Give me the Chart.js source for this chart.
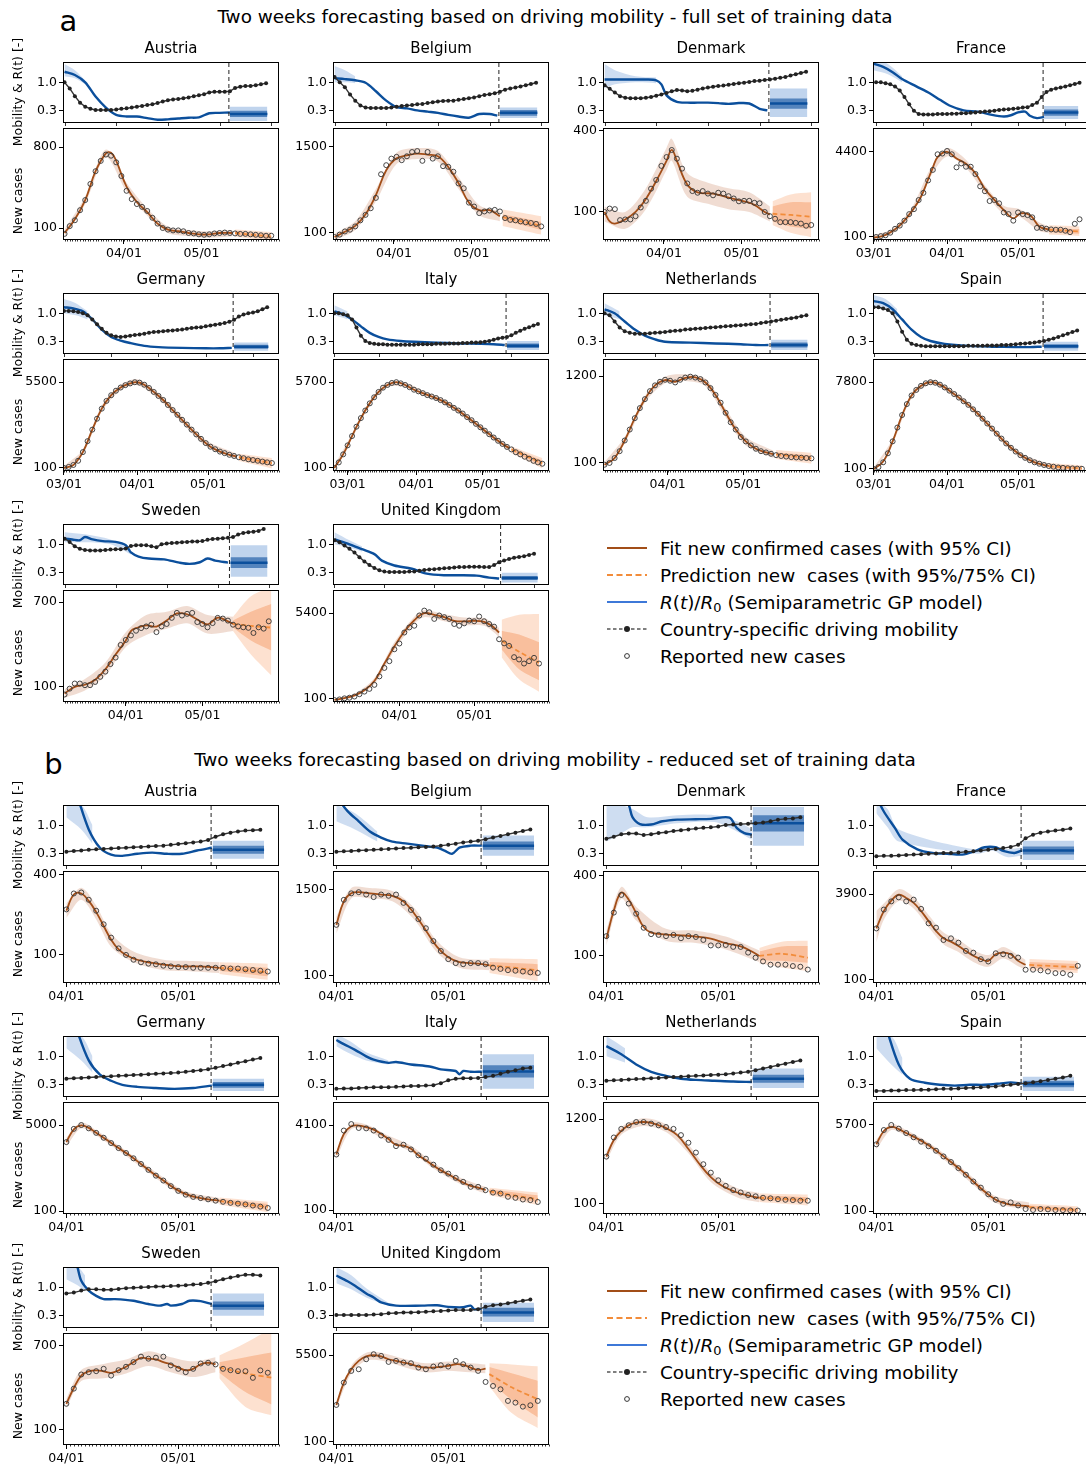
<!DOCTYPE html>
<html lang="en">
<head>
  <meta charset="UTF-8">
  <title>Two weeks forecasting based on driving mobility</title>
  <script src="https://cdn.jsdelivr.net/npm/chart.js"></script>
  <style>
    html, body { margin: 0; padding: 0; background: #fff; overflow: hidden; }
    body { font-family: "DejaVu Sans", sans-serif; color: #000; }
    #page { position: relative; width: 1086px; height: 1468px; overflow: hidden; }
    canvas { position: absolute; }
    .txt { position: absolute; white-space: nowrap; line-height: 1; }
    .leg { position: absolute; white-space: nowrap; font-size: 18.4px; line-height: 27px; }
    .leg svg { position: absolute; left: 0; top: 8px; }
    .leg span { position: absolute; left: 53px; }
    sub { font-size: 70%; vertical-align: -3px; }
  </style>
</head>
<body>
<div id="page"></div>
<script>
  // ---- data (day 0 = 03/01, 31 = 04/01, 61 = 05/01) ----
  const countries = ["Austria", "Belgium", "Denmark", "France", "Germany", "Italy", "Netherlands", "Spain", "Sweden", "United Kingdom"];
  const monthDays = [0, 31, 61];
  const monthLabels = ["03/01", "04/01", "05/01"];

  // panel a: full set of training data
  const firstDayA = [8, 8, 8, 1, 0, -6, 6, 0, 7, 5];
  const axisStartA = [7.4, 7.4, 7.4, -0.3, -0.4, -6.6, 5.4, -0.3, 6.4, 4.4];
  const trainEndA = 71.6;
  const forecastEndA = 86.5;
  const caseTickA = [800, 1500, 400, 4400, 5500, 5700, 1200, 7800, 700, 5400];
  const caseRangeA = [[73.5, 1304], [80.2, 2728], [61.9, 421], [87.5, 12780], [86.8, 16300], [86.7, 17000], [79.4, 1956], [90.4, 25000], [70.7, 925], [86.9, 15900]];

  // mobility, one value every 2 days from the first day
  const mobilityA = [
    [1.00,0.85,0.66,0.50,0.40,0.35,0.32,0.32,0.32,0.32,0.33,0.35,0.36,0.38,0.40,0.42,0.44,0.46,0.49,0.53,0.56,0.58,0.59,0.61,0.63,0.66,0.68,0.71,0.75,0.77,0.77,0.77,0.78,0.86,0.89,0.91,0.91,0.93,0.95,0.98],
    [1.13,1.00,0.88,0.70,0.55,0.43,0.38,0.37,0.37,0.37,0.37,0.38,0.40,0.42,0.43,0.44,0.46,0.47,0.49,0.51,0.53,0.54,0.55,0.55,0.57,0.59,0.61,0.63,0.66,0.69,0.71,0.73,0.77,0.82,0.85,0.87,0.90,0.93,0.96,0.99],
    [0.93,0.84,0.75,0.66,0.62,0.61,0.61,0.61,0.62,0.64,0.67,0.70,0.74,0.78,0.81,0.80,0.78,0.79,0.82,0.85,0.87,0.89,0.91,0.92,0.94,0.96,0.98,0.99,1.01,1.03,1.04,1.06,1.07,1.09,1.11,1.13,1.17,1.20,1.23,1.26],
    [1.00,1.00,0.98,0.95,0.90,0.80,0.64,0.46,0.30,0.22,0.21,0.21,0.21,0.22,0.22,0.22,0.23,0.23,0.24,0.24,0.25,0.26,0.27,0.28,0.29,0.30,0.32,0.33,0.34,0.35,0.36,0.38,0.39,0.44,0.50,0.64,0.76,0.82,0.85,0.87,0.90,0.93,0.96,0.99],
    [1.06,1.06,1.05,1.03,1.00,0.95,0.85,0.73,0.62,0.52,0.46,0.43,0.42,0.43,0.45,0.47,0.48,0.50,0.52,0.54,0.55,0.56,0.57,0.58,0.59,0.60,0.62,0.64,0.65,0.66,0.68,0.70,0.72,0.74,0.76,0.79,0.84,0.92,0.97,1.00,1.02,1.05,1.10,1.15],
    [1.00,1.00,0.98,0.95,0.85,0.65,0.45,0.32,0.27,0.25,0.24,0.24,0.23,0.23,0.23,0.23,0.23,0.23,0.23,0.24,0.24,0.24,0.24,0.25,0.25,0.25,0.26,0.26,0.26,0.27,0.27,0.28,0.28,0.29,0.30,0.32,0.35,0.38,0.40,0.42,0.46,0.52,0.57,0.62,0.66,0.70,0.74],
    [1.00,0.95,0.80,0.65,0.56,0.52,0.50,0.50,0.50,0.51,0.52,0.53,0.54,0.56,0.57,0.58,0.60,0.61,0.62,0.63,0.64,0.65,0.66,0.67,0.68,0.69,0.70,0.71,0.72,0.73,0.74,0.76,0.78,0.80,0.82,0.84,0.86,0.88,0.90,0.93,0.95],
    [1.15,1.15,1.12,1.08,1.00,0.80,0.55,0.35,0.25,0.22,0.20,0.19,0.19,0.19,0.19,0.19,0.19,0.19,0.19,0.19,0.20,0.20,0.20,0.20,0.21,0.21,0.21,0.22,0.22,0.23,0.24,0.25,0.26,0.27,0.28,0.30,0.32,0.35,0.38,0.42,0.46,0.50,0.54,0.58],
    [1.14,1.06,0.95,0.89,0.86,0.85,0.85,0.85,0.86,0.87,0.88,0.88,0.90,0.96,0.98,0.98,0.98,0.95,0.93,1.00,1.02,1.03,1.04,1.05,1.06,1.07,1.07,1.08,1.11,1.13,1.14,1.15,1.16,1.18,1.24,1.28,1.30,1.31,1.33,1.38],
    [1.10,1.05,0.97,0.89,0.80,0.68,0.58,0.49,0.42,0.36,0.33,0.32,0.32,0.32,0.32,0.33,0.33,0.35,0.37,0.38,0.39,0.40,0.41,0.42,0.43,0.44,0.44,0.45,0.45,0.45,0.44,0.44,0.49,0.56,0.60,0.64,0.67,0.69,0.71,0.74,0.77]
  ];

  // R(t)/R0 as [day, value]
  const rtA = [
    [[8,1.26],[12,1.18],[16,1.0],[20,0.65],[24,0.38],[28,0.2],[32,0.16],[36,0.16],[40,0.12],[44,0.08],[48,0.09],[52,0.11],[56,0.13],[60,0.14],[64,0.24],[68,0.25],[72,0.26]],
    [[8,1.10],[12,1.08],[16,1.05],[20,0.99],[24,0.78],[28,0.55],[32,0.39],[36,0.36],[40,0.31],[44,0.28],[48,0.25],[52,0.20],[56,0.16],[60,0.13],[64,0.22],[68,0.22],[71,0.18]],
    [[8,1.07],[12,1.07],[16,1.07],[20,1.07],[24,1.07],[28,1.05],[30,0.95],[32,0.68],[36,0.52],[40,0.50],[44,0.50],[48,0.50],[52,0.49],[56,0.47],[60,0.49],[64,0.48],[68,0.35],[71,0.31]],
    [[0,1.46],[4,1.38],[8,1.25],[12,1.08],[18,0.90],[24,0.72],[28,0.57],[32,0.43],[38,0.31],[44,0.28],[50,0.20],[55,0.16],[58,0.19],[61,0.26],[64,0.28],[66,0.18],[69,0.12],[72,0.15]],
    [[0,1.15],[4,1.12],[8,1.05],[12,0.85],[16,0.6],[20,0.42],[24,0.33],[28,0.27],[34,0.2],[40,0.17],[50,0.15],[60,0.14],[66,0.14],[71,0.15]],
    [[-6,1.05],[-2,0.98],[2,0.85],[6,0.68],[10,0.52],[14,0.42],[18,0.36],[24,0.32],[30,0.3],[40,0.28],[50,0.26],[60,0.25],[66,0.24],[71,0.22]],
    [[6,1.1],[10,1.0],[14,0.8],[18,0.6],[22,0.45],[26,0.36],[30,0.3],[40,0.28],[50,0.26],[60,0.24],[66,0.22],[71,0.22]],
    [[0,1.3],[4,1.25],[8,1.1],[12,0.85],[16,0.6],[20,0.42],[24,0.32],[30,0.25],[40,0.2],[50,0.18],[60,0.17],[66,0.17],[71,0.18]],
    [[7,1.14],[10,1.12],[13,1.10],[15,1.18],[18,1.12],[22,1.08],[27,1.06],[31,0.98],[33,0.80],[36,0.70],[40,0.65],[46,0.63],[52,0.55],[56,0.52],[60,0.56],[63,0.65],[66,0.60],[71,0.55]],
    [[5,1.12],[11,1.00],[16,0.88],[21,0.76],[24,0.60],[29,0.48],[36,0.40],[42,0.28],[49,0.24],[55,0.24],[62,0.23],[67,0.18],[71,0.16]]
  ];
  // early posterior spread of R(t)/R0 as [day, low, high]
  const rtSpreadA = [
    [[8,1.15,1.45],[12,1.10,1.30],[16,0.95,1.05]],
    [[8,1.00,1.40],[12,1.00,1.30],[16,0.98,1.15]],
    [[8,0.85,1.45],[12,0.95,1.30],[20,1.00,1.15],[28,0.98,1.12]],
    [[0,1.30,1.60],[6,1.20,1.45],[12,1.00,1.15]],
    [[0,1.00,1.35],[5,0.95,1.25],[10,0.85,1.05]],
    [[-6,0.95,1.20],[0,0.85,1.05]],
    [[6,0.95,1.25],[12,0.85,1.05]],
    [[0,1.15,1.45],[5,1.10,1.35],[10,0.90,1.10]],
    [[7,1.05,1.30],[15,1.05,1.25],[25,1.00,1.12],[33,0.75,0.88]],
    [[5,1.00,1.30],[11,0.92,1.10],[16,0.82,0.95]]
  ];
  // forecast R(t)/R0: mean, 75% low, 75% high, 95% low, 95% high
  const rtForecastA = [
    [0.22,0.15,0.30,0.05,0.40], [0.25,0.18,0.32,0.12,0.38], [0.48,0.35,0.60,0.15,0.85], [0.26,0.18,0.33,0.10,0.42], [0.18,0.13,0.23,0.08,0.28],
    [0.20,0.15,0.26,0.10,0.32], [0.22,0.16,0.28,0.10,0.35], [0.19,0.14,0.24,0.08,0.30], [0.55,0.42,0.68,0.20,0.98], [0.17,0.12,0.22,0.06,0.30]
  ];

  // reported new cases, one value every 2 days from the first day
  const casesA = [
    [86,105,122,158,205,310,430,560,660,640,540,380,260,210,185,172,155,130,112,100,96,94,94,92,88,87,85,84,85,87,88,89,88,87,86,86,85,84,83,82,82],
    [88,95,105,111,123,149,177,218,302,636,846,1040,1100,990,1120,1280,1320,970,1280,1040,1120,820,804,688,476,408,260,230,187,197,203,207,197,160,151,149,144,140,137,133,123],
    [100,106,105,87,88,88,93,108,121,149,173,220,256,289,249,210,163,143,139,143,137,133,139,137,131,126,120,121,121,117,116,100,93,89,84,84,84,83,82,79,80],
    [100,104,108,121,144,166,207,277,345,518,713,1240,1980,3970,4100,4600,3970,2220,2640,2280,2280,1650,953,767,495,518,447,298,277,207,298,277,265,240,150,150,144,140,138,138,132,124,180,220],
    [100,105,115,140,210,350,600,1000,1600,2300,3000,3700,4300,4800,5200,5500,5400,4900,4200,3500,2900,2400,1900,1500,1200,950,760,600,480,390,320,270,240,215,200,185,175,165,158,150,145,140,135,130,126],
    [100,130,190,290,450,700,1050,1500,2100,2800,3600,4400,5000,5500,5700,5400,5000,4500,4000,3700,3400,3100,2900,2700,2450,2200,1950,1700,1500,1300,1100,950,800,680,580,490,420,360,310,270,240,210,190,170,155,140,130,122],
    [95,100,115,140,190,260,360,480,620,780,920,1020,1080,1050,1000,1080,1150,1180,1150,1100,1000,850,700,560,420,320,260,210,185,165,150,140,135,130,125,122,120,118,117,116,115,114],
    [100,110,140,220,400,800,1500,2600,4000,5300,6500,7400,7800,7600,6900,6000,5100,4300,3600,3000,2500,2000,1600,1250,980,760,590,460,360,290,240,200,175,155,140,130,122,116,112,108,106,104,103,102,101],
    [84,96,108,108,104,104,112,126,142,169,196,262,294,326,363,386,401,417,352,401,424,488,547,515,535,547,443,424,393,433,488,480,458,417,401,393,388,345,393,381,451],
    [95,98,103,106,112,125,141,160,193,286,424,580,1010,1320,2200,2790,3020,4850,6100,5650,4150,4850,4490,4150,3270,3020,3370,3830,3710,4630,3710,3270,2890,1610,1330,1180,700,628,520,580,678,520]
  ];
  // model fit as [day, value]
  const fitA = [
    [[8,88],[12,125],[16,205],[20,430],[24,680],[26,690],[28,560],[32,290],[36,195],[40,150],[44,112],[48,96],[52,92],[56,88],[60,85],[64,85],[68,88],[73,88]],
    [[8,88],[12,104],[16,125],[20,180],[24,330],[28,720],[32,1050],[36,1150],[40,1220],[44,1180],[48,1120],[52,800],[56,480],[60,260],[64,205],[68,205],[72,170]],
    [[8,100],[10,85],[12,82],[16,88],[20,100],[24,125],[28,170],[32,240],[34,290],[36,240],[40,160],[44,140],[50,137],[56,128],[62,120],[66,113],[70,100],[72,96]],
    [[0,98],[4,105],[8,130],[12,185],[16,310],[20,600],[23,1300],[25,2200],[27,3500],[31,4400],[35,3300],[39,2600],[43,1700],[47,850],[51,520],[55,330],[59,230],[62,285],[66,265],[70,160],[74,140]],
    [[0,100],[4,115],[8,210],[12,600],[16,1600],[20,3000],[24,4300],[28,5200],[31,5500],[34,4900],[38,3500],[42,2400],[46,1500],[50,950],[54,600],[58,390],[62,270],[66,215],[70,185],[73,170]],
    [[-6,100],[-2,190],[2,450],[6,1050],[10,2100],[14,3600],[18,5000],[22,5700],[26,5000],[30,4000],[34,3400],[38,2900],[42,2450],[46,1950],[50,1500],[54,1100],[58,800],[62,580],[66,420],[70,310],[73,255]],
    [[6,95],[10,115],[14,190],[18,360],[22,620],[26,920],[30,1070],[34,1020],[38,1140],[42,1160],[46,1000],[50,700],[54,420],[58,260],[62,185],[66,150],[70,135],[73,128]],
    [[0,100],[4,145],[8,400],[12,1500],[16,4000],[20,6500],[24,7800],[28,6900],[32,5100],[36,3600],[40,2500],[44,1600],[48,980],[52,590],[56,360],[60,240],[64,175],[68,140],[72,122],[74,116]],
    [[7,86],[11,100],[15,105],[19,118],[23,150],[27,210],[31,290],[33,360],[35,385],[39,410],[43,400],[47,460],[51,540],[55,530],[59,470],[63,420],[67,490],[71,450],[73,425]],
    [[5,96],[9,104],[13,118],[17,150],[21,230],[25,520],[29,1150],[33,2300],[37,3900],[41,5400],[45,5000],[49,4500],[53,3800],[57,3700],[61,3800],[65,3600],[68,3000],[71,2200]]
  ];
  // 95% CI of the fit as [day, low, high]
  const fitCiA = [
    [[8,80,96],[16,185,225],[24,610,750],[32,255,320],[40,137,165],[48,88,104],[56,81,95],[64,78,92],[73,81,95]],
    [[8,80,98],[16,110,145],[24,270,400],[32,880,1250],[40,1030,1450],[48,950,1320],[56,400,580],[64,175,240],[72,145,200]],
    [[8,85,110],[16,75,100],[24,105,150],[32,205,300],[34,240,350],[40,130,195],[48,115,165],[56,105,150],[64,100,140],[72,85,110]],
    [[0,92,108],[8,118,145],[16,270,360],[24,1450,2100],[31,3600,5200],[39,2150,3100],[47,700,1000],[55,280,400],[62,240,340],[70,130,190],[74,120,160]],
    [[0,92,110],[8,190,235],[16,1400,1850],[24,3800,4900],[31,4800,6300],[40,2500,3300],[50,820,1100],[60,280,370],[73,150,195]],
    [[-6,90,112],[2,400,500],[10,1900,2350],[18,4500,5600],[26,4500,5600],[34,3050,3800],[42,2200,2750],[50,1330,1680],[58,700,900],[66,370,470],[73,225,285]],
    [[6,88,102],[14,175,210],[22,560,680],[30,980,1180],[38,1040,1260],[46,900,1110],[54,370,470],[62,165,210],[73,115,142]],
    [[0,92,108],[8,360,450],[16,3500,4500],[24,6900,8800],[32,4500,5800],[40,2200,2850],[48,860,1120],[56,320,410],[64,155,200],[74,103,132]],
    [[7,78,95],[15,92,120],[23,130,175],[31,250,350],[39,330,520],[47,380,560],[55,430,640],[63,340,520],[73,360,500]],
    [[5,90,102],[13,110,128],[21,200,265],[29,950,1400],[37,3300,4600],[41,4500,6200],[49,3700,5200],[57,3100,4400],[65,3000,4300],[71,1800,2700]]
  ];
  // prediction as [day, mean, 75% low, 75% high, 95% low, 95% high]
  const predA = [
    [[74,88,84,92,80,96],[88,80,76,85,72,90]],
    [[73,165,150,180,125,210],[88,125,110,142,95,170]],
    [[73,97,85,110,80,120],[80,95,78,118,70,135],[88,92,75,118,65,140]],
    [[74,138,125,150,112,168],[87,128,115,142,105,160]],
    [[74,165,150,180,138,195],[88,125,110,142,98,160]],
    [[74,240,220,260,200,280],[88,125,110,142,98,160]],
    [[74,128,120,136,112,145],[88,114,106,124,98,134]],
    [[74,115,105,125,98,135],[88,103,95,112,90,120]],
    [[73,425,390,460,360,500],[80,405,290,560,210,800],[88,390,230,670,130,1000]],
    [[72,1500,1000,2400,700,4000],[79,900,400,2000,250,5000],[87,540,240,1400,140,5200]]
  ];

  // panel b: reduced set of training data (all start 04/01)
  const firstDayB = 31;
  const axisStartB = 30.1;
  const trainEndB = 69.8;
  const forecastEndB = 84;
  const caseTickB = [400, 1500, 400, 3900, 5000, 4100, 1200, 5700, 700, 5500];
  const caseRangeB = [[61.5, 428], [80.2, 2728], [62.6, 436], [88, 10400], [87.3, 14260], [84, 11200], [74.6, 1976], [86.9, 16800], [70.4, 945], [87, 15360]];

  const mobilityB = [
    [0.35,0.37,0.38,0.40,0.41,0.42,0.43,0.44,0.45,0.46,0.47,0.48,0.49,0.50,0.52,0.54,0.56,0.58,0.60,0.64,0.72,0.78,0.82,0.85,0.87,0.88,0.89],
    [0.35,0.36,0.37,0.38,0.39,0.40,0.41,0.42,0.43,0.44,0.45,0.46,0.47,0.48,0.50,0.52,0.55,0.58,0.60,0.62,0.66,0.70,0.74,0.78,0.82,0.86,0.90],
    [0.67,0.72,0.78,0.80,0.80,0.76,0.78,0.81,0.83,0.86,0.88,0.90,0.92,0.94,0.95,0.97,1.01,1.02,1.03,1.04,1.05,1.07,1.10,1.14,1.16,1.17,1.20],
    [0.24,0.25,0.25,0.26,0.27,0.28,0.29,0.30,0.31,0.32,0.32,0.33,0.35,0.36,0.38,0.40,0.42,0.44,0.47,0.52,0.68,0.77,0.82,0.85,0.87,0.89,0.92],
    [0.45,0.46,0.47,0.48,0.49,0.50,0.51,0.52,0.53,0.54,0.55,0.56,0.57,0.58,0.59,0.60,0.62,0.64,0.66,0.68,0.72,0.76,0.80,0.84,0.88,0.92,0.96],
    [0.20,0.21,0.21,0.22,0.23,0.24,0.24,0.24,0.25,0.26,0.27,0.27,0.28,0.29,0.34,0.41,0.45,0.46,0.46,0.47,0.49,0.52,0.57,0.62,0.66,0.70,0.72],
    [0.40,0.41,0.42,0.43,0.44,0.45,0.46,0.47,0.48,0.49,0.50,0.51,0.52,0.53,0.54,0.55,0.56,0.58,0.60,0.62,0.66,0.70,0.74,0.78,0.82,0.86,0.90],
    [0.15,0.15,0.16,0.16,0.17,0.17,0.18,0.18,0.19,0.20,0.20,0.21,0.22,0.23,0.24,0.25,0.26,0.28,0.30,0.32,0.34,0.36,0.39,0.42,0.45,0.48,0.52],
    [0.85,0.87,0.92,0.95,0.95,0.94,0.94,0.96,0.98,0.99,1.00,1.01,1.02,1.02,1.03,1.04,1.05,1.07,1.08,1.11,1.15,1.20,1.24,1.28,1.31,1.31,1.29],
    [0.32,0.32,0.32,0.32,0.32,0.33,0.34,0.36,0.37,0.38,0.38,0.39,0.40,0.41,0.42,0.43,0.44,0.44,0.44,0.46,0.52,0.56,0.58,0.61,0.64,0.67,0.70]
  ];
  const rtB = [
    [[31,2.5],[34,1.7],[37,0.9],[40,0.45],[43,0.28],[46,0.25],[50,0.3],[54,0.33],[58,0.3],[62,0.3],[66,0.38],[70,0.45]],
    [[31,1.7],[34,1.35],[37,1.1],[40,0.85],[43,0.7],[46,0.6],[50,0.55],[54,0.5],[58,0.45],[60,0.38],[62,0.3],[64,0.45],[67,0.5],[70,0.5]],
    [[31,2.2],[34,1.9],[37,1.5],[38,1.2],[40,1.03],[43,1.02],[46,1.10],[50,1.14],[55,1.15],[59,1.16],[64,1.19],[66,0.93],[68,0.81],[70,0.77]],
    [[31,1.7],[33,1.34],[36,0.93],[38,0.65],[42,0.41],[46,0.32],[50,0.30],[54,0.28],[57,0.35],[60,0.46],[63,0.46],[65,0.37],[68,0.32],[70,0.38]],
    [[31,2.5],[34,1.6],[37,0.9],[40,0.55],[43,0.4],[46,0.3],[50,0.25],[55,0.22],[60,0.2],[65,0.22],[70,0.28]],
    [[31,1.40],[33,1.30],[36,1.16],[39,1.0],[41,0.92],[45,0.84],[47,0.86],[51,0.80],[56,0.75],[59,0.68],[63,0.64],[64,0.56],[65,0.64],[67,0.62],[70,0.62]],
    [[31,1.25],[35,1.05],[39,0.8],[43,0.62],[47,0.52],[51,0.45],[55,0.42],[60,0.4],[65,0.38],[70,0.37]],
    [[31,2.5],[34,1.6],[37,0.8],[40,0.45],[44,0.35],[48,0.3],[52,0.28],[56,0.3],[60,0.3],[64,0.33],[67,0.36],[70,0.33]],
    [[31,2.5],[33,1.8],[34,1.49],[35,1.16],[37,0.92],[39,0.79],[41,0.71],[44,0.71],[49,0.67],[53,0.59],[56,0.55],[58,0.59],[59,0.55],[62,0.59],[64,0.67],[67,0.66],[70,0.59]],
    [[31,1.29],[34,1.15],[36,1.04],[39,0.85],[41,0.75],[43,0.63],[47,0.55],[54,0.55],[58,0.56],[61,0.52],[65,0.51],[67,0.55],[68,0.46],[70,0.48]]
  ];
  const rtSpreadB = [
    [[31,1.2,1.5],[35,0.9,1.5],[38,0.55,1.0]],
    [[31,1.1,1.5],[36,0.9,1.3],[42,0.6,0.85]],
    [[31,0.6,1.5],[35,0.8,1.5],[38,0.95,1.4],[42,0.95,1.2],[50,1.05,1.25],[60,1.08,1.25],[66,0.85,1.1],[70,0.65,0.9]],
    [[31,1.3,1.6],[34,0.95,1.4],[37,0.6,0.9],[58,0.3,0.4],[62,0.38,0.5],[66,0.22,0.42],[70,0.25,0.45]],
    [[31,1.2,1.5],[35,0.9,1.5],[38,0.6,1.0]],
    [[31,1.25,1.55],[35,1.05,1.35],[39,0.9,1.1],[45,0.8,0.9]],
    [[31,1.0,1.5],[36,0.85,1.2]],
    [[31,1.2,1.5],[35,0.8,1.5],[38,0.55,0.95]],
    [[31,1.2,1.5],[34,1.05,1.5],[36,0.9,1.3]],
    [[31,1.1,1.5],[35,0.95,1.3],[39,0.75,0.98],[45,0.55,0.62]]
  ];
  const rtForecastB = [
    [0.40,0.30,0.50,0.18,0.62], [0.50,0.40,0.60,0.25,0.75], [1.05,0.85,1.25,0.50,1.45], [0.38,0.28,0.48,0.15,0.62], [0.30,0.23,0.37,0.15,0.45],
    [0.63,0.48,0.78,0.20,1.05], [0.45,0.35,0.55,0.22,0.70], [0.32,0.24,0.40,0.15,0.50], [0.55,0.45,0.65,0.30,0.85], [0.38,0.28,0.50,0.15,0.62]
  ];
  const casesB = [
    [220,290,295,260,215,170,135,112,100,92,88,86,85,83,82,81,81,80,80,80,80,80,79,79,78,77,76,75],
    [500,1100,1350,1400,1300,1200,1300,1250,1300,1000,800,600,450,300,220,170,150,145,150,150,145,130,125,120,118,115,112,110],
    [141,212,288,248,208,163,146,144,141,144,136,141,139,132,120,120,121,117,117,106,97,91,86,86,86,84,83,79],
    [900,2010,2850,3380,2850,3070,2070,1120,930,550,590,490,345,320,243,220,312,300,280,260,155,155,151,144,134,134,125,183],
    [2300,4200,5000,4300,3500,2800,2200,1750,1400,1100,850,650,500,400,310,250,210,190,180,170,160,152,145,140,135,128,122,115],
    [1130,3220,4270,3600,3540,3220,2590,2140,1630,1730,1410,1090,940,725,567,490,407,342,275,275,238,214,205,178,170,158,154,142],
    [400,700,900,1000,1100,1100,1050,1000,950,900,750,600,450,320,250,200,170,150,140,130,125,120,118,115,113,112,110,110],
    [2300,4500,5700,4800,3900,3200,2600,2100,1700,1300,1000,750,550,400,300,220,170,140,150,130,110,105,110,108,105,104,103,102],
    [183,260,361,381,390,412,352,399,432,481,546,521,533,546,446,412,381,412,466,474,456,412,399,390,390,334,397,376],
    [553,1553,2665,2877,4571,5757,5330,4040,4230,3920,3800,3110,2877,3260,3460,3260,4230,3630,3110,2665,1600,1330,1140,666,616,512,545,666]
  ];
  const fitB = [
    [[31,215],[33,285],[35,290],[37,255],[39,210],[41,165],[43,130],[45,110],[47,100],[50,92],[54,87],[58,84],[62,82],[66,82],[70,81],[72,80]],
    [[31,500],[33,1050],[35,1350],[37,1400],[40,1350],[43,1300],[46,1250],[49,1050],[52,700],[55,420],[58,250],[61,180],[64,155],[67,150],[70,145],[72,140]],
    [[31,135],[33,220],[35,300],[37,265],[39,210],[41,165],[43,150],[47,145],[51,143],[55,140],[59,135],[63,125],[67,118],[70,108],[72,100]],
    [[31,900],[33,1880],[35,2940],[37,3780],[39,3290],[41,2670],[43,1880],[45,1230],[47,805],[49,590],[51,514],[53,427],[55,345],[57,280],[59,243],[61,226],[63,300],[65,322],[67,300],[69,226],[71,191]],
    [[31,2300],[33,4100],[35,4900],[37,4400],[39,3500],[42,2500],[45,1750],[48,1250],[51,850],[54,570],[57,400],[60,280],[63,215],[66,185],[69,170],[72,160]],
    [[31,1130],[33,2770],[35,3880],[37,4000],[39,3720],[41,3360],[43,2780],[45,2230],[47,1720],[49,1670],[51,1450],[53,1090],[55,875],[57,702],[59,565],[61,476],[63,395],[65,331],[67,287],[69,267],[71,238]],
    [[31,400],[33,650],[35,850],[37,1000],[39,1080],[41,1100],[43,1070],[45,1000],[47,920],[50,750],[53,500],[56,320],[59,220],[62,170],[66,140],[70,125],[72,120]],
    [[31,2300],[33,4300],[35,5200],[37,4700],[39,3900],[42,3000],[45,2200],[48,1500],[51,1000],[54,650],[57,400],[60,250],[63,170],[66,140],[69,130],[72,125]],
    [[31,183],[33,264],[35,352],[37,389],[39,398],[41,389],[43,375],[45,398],[47,432],[49,481],[51,532],[53,520],[55,512],[57,481],[59,458],[61,424],[63,398],[65,412],[67,458],[69,474],[71,458]],
    [[31,553],[33,1550],[35,2880],[37,4230],[39,5200],[41,5500],[43,5200],[45,4570],[47,4230],[49,3920],[51,3630],[53,3260],[55,3110],[57,3110],[59,3260],[61,3370],[63,3630],[65,3520],[67,3110],[69,2790],[71,2970]]
  ];
  const fitCiB = [
    [[31,190,245],[35,260,320],[39,185,235],[43,115,145],[49,88,106],[57,77,92],[65,75,90],[72,73,88]],
    [[31,380,650],[35,1150,1600],[40,1150,1600],[46,1050,1450],[52,580,840],[58,210,300],[64,130,180],[72,120,165]],
    [[31,120,155],[35,270,330],[39,185,235],[47,130,160],[55,125,155],[63,112,140],[72,90,110]],
    [[31,500,1900],[33,1300,2600],[37,2900,4800],[41,2100,3400],[45,950,1600],[49,460,760],[53,330,560],[57,215,360],[61,175,290],[65,250,410],[69,180,290],[71,155,235]],
    [[31,1900,2800],[35,4300,5600],[39,3100,3950],[45,1550,1980],[51,740,960],[57,350,460],[63,190,245],[72,140,180]],
    [[31,950,1350],[35,3400,4400],[39,3300,4200],[45,1950,2550],[51,1270,1650],[57,610,800],[63,345,450],[69,230,305],[71,205,275]],
    [[31,350,460],[35,760,950],[41,980,1230],[47,820,1030],[53,440,570],[59,190,250],[66,122,160],[72,105,138]],
    [[31,1800,2900],[35,4500,6000],[39,3400,4500],[45,1900,2500],[51,850,1150],[57,340,470],[63,145,200],[72,105,150]],
    [[31,165,205],[35,310,400],[41,330,460],[47,370,510],[53,440,620],[59,380,540],[65,340,490],[71,380,540]],
    [[31,480,640],[35,2400,3400],[39,4300,6200],[43,4300,6200],[49,3200,4700],[55,2500,3800],[61,2700,4100],[67,2500,3800],[71,2400,3600]]
  ];
  const predB = [
    [[72,80,76,84,72,88],[85,74,69,80,65,86]],
    [[72,140,125,155,110,175],[85,120,100,145,85,170]],
    [[72,100,93,108,88,115],[78,104,92,118,82,128],[85,97,89,119,77,130]],
    [[72,190,168,215,150,245],[85,172,150,198,135,225]],
    [[72,158,145,172,133,185],[85,120,105,138,95,152]],
    [[72,225,205,248,190,265],[85,160,140,190,125,215]],
    [[72,120,113,128,106,136],[85,112,104,122,96,132]],
    [[72,120,110,130,100,140],[85,105,95,115,88,125]],
    [[72,425,375,480,330,560],[79,370,240,540,170,750],[86,335,180,600,140,1050]],
    [[72,2300,1700,3200,1300,3800],[78,1250,700,2400,380,3600],[85,720,310,1700,190,3300]]
  ];

  const legendLabels = [
    "Fit new confirmed cases (with 95% CI)",
    "Prediction new&nbsp; cases (with 95%/75% CI)",
    "<i>R</i>(<i>t</i>)/<i>R</i><sub>0</sub> (Semiparametric GP model)",
    "Country-specific driving mobility",
    "Reported new cases"
  ];

  // ---- layout ----
  const page = document.getElementById("page");
  const colX = [63, 333, 603, 873];
  const plotW = 216;
  const padL = 50, padR = 6, padV = 12;
  const rowTopA = [62, 293, 524];
  const rowTopB = [805, 1036, 1267];

  Chart.defaults.font.family = '"DejaVu Sans", sans-serif';
  Chart.defaults.font.size = 12.5;
  Chart.defaults.color = "#000";

  // box around the plot area + extra tick marks (matplotlib look)
  const frame = {
    id: "frame",
    afterDraw(chart, args, opts) {
      const { ctx, chartArea: a, scales } = chart;
      ctx.save();
      ctx.strokeStyle = "#000";
      ctx.lineWidth = 1;
      const l = Math.round(a.left) + 0.5, t = Math.round(a.top) + 0.5;
      const r = Math.round(a.right) - 0.5, b = Math.round(a.bottom) - 0.5;
      ctx.strokeRect(l, t, r - l, b - t);
      ctx.beginPath();
      (opts.marks || []).forEach(d => {
        if (d < scales.x.min || d > scales.x.max) return;
        const px = Math.round(scales.x.getPixelForValue(d)) + 0.5;
        ctx.moveTo(px, b);
        ctx.lineTo(px, b + opts.len);
      });
      ctx.lineWidth = 0.8;
      ctx.stroke();
      ctx.restore();
    }
  };

  function makeCanvas(left, top, w, h) {
    const c = document.createElement("canvas");
    c.width = w;
    c.height = h;
    c.style.left = left + "px";
    c.style.top = top + "px";
    page.appendChild(c);
    return c;
  }

  function addText(html, cx, cy, size, rotate) {
    const d = document.createElement("div");
    d.className = "txt";
    d.innerHTML = html;
    d.style.left = cx + "px";
    d.style.top = cy + "px";
    d.style.fontSize = size + "px";
    d.style.transform = "translate(-50%,-50%)" + (rotate ? " rotate(-90deg)" : "");
    page.appendChild(d);
  }

  const series = (first, vals) => vals.map((v, i) => ({ x: first + i * 2, y: v }));
  const pick = (list, k) => list.map(r => ({ x: r[0], y: r[k] }));

  function band(list, kLo, kHi, color, order) {
    return [
      { data: pick(list, kLo), borderWidth: 0, borderColor: "transparent", pointRadius: 0, tension: 0.3, fill: false, order },
      { data: pick(list, kHi), borderWidth: 0, borderColor: "transparent", pointRadius: 0, tension: 0.3, fill: "-1", backgroundColor: color, order }
    ];
  }

  function baseOptions(marks, len, pad) {
    return {
      responsive: false,
      animation: false,
      events: [],
      devicePixelRatio: 1,
      layout: { padding: pad, autoPadding: false },
      plugins: { legend: { display: false }, tooltip: { enabled: false }, frame: { marks, len } },
      scales: {}
    };
  }

  function drawTop(p, i, left, top) {
    const first = p.first[i];
    const c = makeCanvas(left - padL, top - padV, padL + plotW + padR, padV + 61 + padV);
    const fc = p.rtFc[i];
    const fcRows = [[p.trainEnd + 0.4, ...fc], [p.fcEnd, ...fc]];
    const opts = baseOptions([0, 20, 40, 60, 80].map(k => first + k), 3.5, { top: padV, right: padR, bottom: padV, left: 0 });
    opts.scales = {
      x: { type: "linear", display: false, min: p.xMin(i), max: p.xMax },
      y: {
        type: "linear", min: 0, max: 1.5,
        afterBuildTicks: s => { s.ticks = [0.3, 1.0].map(v => ({ value: v })); },
        afterFit: s => { s.width = padL; },
        ticks: { callback: v => v.toFixed(1), padding: 2 },
        grid: { drawOnChartArea: false, tickLength: 4, color: "#000" },
        border: { display: false }
      }
    };
    new Chart(c, {
      type: "line",
      data: {
        datasets: [
          { data: series(first, p.mob[i]), borderColor: "#333", borderWidth: 1.4, pointRadius: 2, pointBackgroundColor: "#222", pointBorderWidth: 0, order: 0 },
          { data: [{ x: p.trainEnd, y: 0 }, { x: p.trainEnd, y: 1.5 }], borderColor: "#222", borderWidth: 1, borderDash: [4, 3], pointRadius: 0, order: 1 },
          { data: pick(p.rt[i], 1), borderColor: "#0b4f9c", borderWidth: 2.4, pointRadius: 0, tension: 0.3, order: 2 },
          { data: pick(fcRows, 1), borderColor: "#0b4f9c", borderWidth: 2.5, pointRadius: 0, order: 2 },
          ...band(fcRows, 2, 3, "rgba(11,79,156,0.6)", 3),
          ...band(fcRows, 4, 5, "rgba(60,120,200,0.32)", 4),
          ...band(p.rtSpread[i], 1, 2, "rgba(60,120,200,0.25)", 5)
        ]
      },
      options: opts,
      plugins: [frame]
    });
  }

  function drawBottom(p, i, left, top) {
    const first = p.first[i];
    const xMin = p.xMin(i);
    const days = [];
    for (let d = Math.ceil(xMin); d <= p.xMax; d++) days.push(d);
    const c = makeCanvas(left - padL, top - padV, padL + plotW + padR, padV + 112 + 22);
    const opts = baseOptions(days, 2, { top: padV, right: padR, bottom: 0, left: 0 });
    opts.scales = {
      x: {
        type: "linear", min: xMin, max: p.xMax,
        afterBuildTicks: s => { s.ticks = monthDays.filter(d => d >= xMin && d <= p.xMax).map(v => ({ value: v })); },
        afterFit: s => { s.height = 22; },
        ticks: { callback: v => monthLabels[monthDays.indexOf(v)], autoSkip: false, maxRotation: 0, padding: 2 },
        grid: { drawOnChartArea: false, tickLength: 4, color: "#000" },
        border: { display: false }
      },
      y: {
        type: "logarithmic", min: p.range[i][0], max: p.range[i][1],
        afterBuildTicks: s => { s.ticks = [100, p.tick[i]].map(v => ({ value: v })); },
        afterFit: s => { s.width = padL; },
        ticks: { callback: v => String(v), padding: 2 },
        grid: { drawOnChartArea: false, tickLength: 4, color: "#000" },
        border: { display: false }
      }
    };
    new Chart(c, {
      type: "line",
      data: {
        datasets: [
          { data: series(first, p.cases[i]), showLine: false, pointRadius: 2.5, pointBorderColor: "#333", pointBorderWidth: 0.9, pointBackgroundColor: "rgba(0,0,0,0)", order: 0 },
          { data: pick(p.fit[i], 1), borderColor: "#a24e18", borderWidth: 1.8, pointRadius: 0, tension: 0.4, order: 1 },
          { data: pick(p.pred[i], 1), borderColor: "#f28c3a", borderWidth: 1.8, borderDash: [5, 3], pointRadius: 0, tension: 0.3, order: 2 },
          ...band(p.pred[i], 2, 3, "rgba(243,140,80,0.4)", 3),
          ...band(p.pred[i], 4, 5, "rgba(249,170,120,0.35)", 4),
          ...band(p.fitCi[i], 1, 2, "rgba(205,140,105,0.3)", 5)
        ]
      },
      options: opts,
      plugins: [frame]
    });
  }

  function drawLegend(topY) {
    const samples = [
      '<line x1="0" y1="5" x2="40" y2="5" stroke="#a24e18" stroke-width="2"/>',
      '<line x1="0" y1="5" x2="40" y2="5" stroke="#f28c3a" stroke-width="2" stroke-dasharray="6,3.5"/>',
      '<line x1="0" y1="5" x2="40" y2="5" stroke="#3d78d8" stroke-width="2"/>',
      '<line x1="0" y1="5" x2="40" y2="5" stroke="#555" stroke-width="1.3" stroke-dasharray="3.5,2.5"/><circle cx="20" cy="5" r="3" fill="#222"/>',
      '<circle cx="20" cy="5" r="2.4" fill="none" stroke="#333" stroke-width="1"/>'
    ];
    legendLabels.forEach((txt, k) => {
      const row = document.createElement("div");
      row.className = "leg";
      row.style.left = "607px";
      row.style.top = (topY + k * 27 - 13.5) + "px";
      row.innerHTML = `<svg width="44" height="10">${samples[k]}</svg><span>${txt}</span>`;
      page.appendChild(row);
    });
  }

  function drawPanel(p, rowTop) {
    countries.forEach((name, i) => {
      const row = Math.floor(i / 4), col = i % 4;
      const left = colX[col];
      const top = rowTop[row];
      drawTop(p, i, left, top);
      drawBottom(p, i, left, top + 66);
      addText(name, left + plotW / 2, top - 14, 15);
      if (col === 0) {
        addText("Mobility &amp; R(t) [-]", 18, top + 30, 12.5, true);
        addText("New cases", 18, top + 139, 12.5, true);
      }
    });
  }

  const panelA = {
    first: firstDayA, mob: mobilityA, rt: rtA, rtSpread: rtSpreadA, rtFc: rtForecastA,
    cases: casesA, fit: fitA, fitCi: fitCiA, pred: predA, tick: caseTickA, range: caseRangeA,
    trainEnd: trainEndA, fcEnd: forecastEndA, xMin: i => axisStartA[i], xMax: 91
  };
  const panelB = {
    first: countries.map(() => firstDayB), mob: mobilityB, rt: rtB, rtSpread: rtSpreadB, rtFc: rtForecastB,
    cases: casesB, fit: fitB, fitCi: fitCiB, pred: predB, tick: caseTickB, range: caseRangeB,
    trainEnd: trainEndB, fcEnd: forecastEndB, xMin: () => axisStartB, xMax: 88
  };

  addText("a", 68.5, 21, 29);
  addText("Two weeks forecasting based on driving mobility - full set of training data", 555, 17, 18.4);
  addText("b", 53.5, 764, 29);
  addText("Two weeks forecasting based on driving mobility - reduced set of training data", 555, 760, 18.4);

  drawPanel(panelA, rowTopA);
  drawPanel(panelB, rowTopB);
  drawLegend(548);
  drawLegend(1291);
</script>
</body>
</html>
